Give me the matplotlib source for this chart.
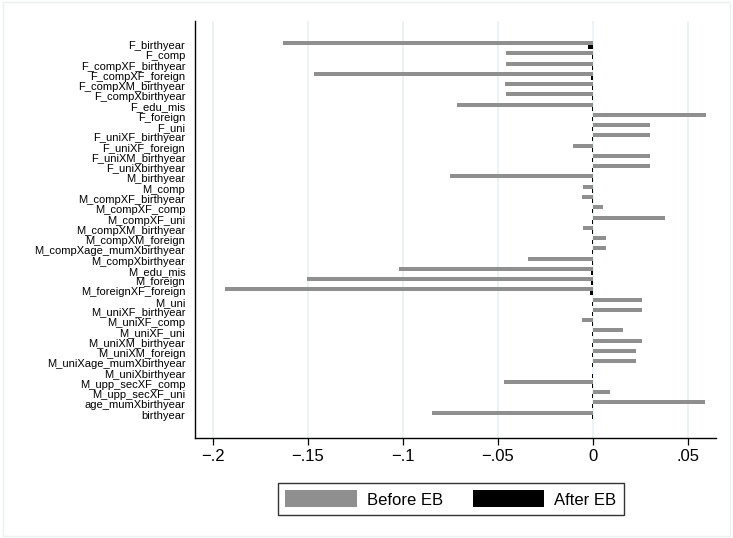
import matplotlib.pyplot as plt
from matplotlib.patches import Patch, Rectangle
import numpy as np

plt.rcParams['font.family'] = ['Liberation Sans', 'DejaVu Sans']

# Variables (top to bottom)
variables = ['F_birthyear', 'F_comp', 'F_compXF_birthyear', 'F_compXF_foreign',
             'F_compXM_birthyear', 'F_compXbirthyear', 'F_edu_mis', 'F_foreign',
             'F_uni', 'F_uniXF_birthyear', 'F_uniXF_foreign', 'F_uniXM_birthyear',
             'F_uniXbirthyear', 'M_birthyear', 'M_comp', 'M_compXF_birthyear',
             'M_compXF_comp', 'M_compXF_uni', 'M_compXM_birthyear', 'M_compXM_foreign',
             'M_compXage_mumXbirthyear', 'M_compXbirthyear', 'M_edu_mis', 'M_foreign',
             'M_foreignXF_foreign', 'M_uni', 'M_uniXF_birthyear', 'M_uniXF_comp',
             'M_uniXF_uni', 'M_uniXM_birthyear', 'M_uniXM_foreign',
             'M_uniXage_mumXbirthyear', 'M_uniXbirthyear', 'M_upp_secXF_comp',
             'M_upp_secXF_uni', 'age_mumXbirthyear', 'birthyear']

# Standardised differences before entropy balancing
before_eb = [-0.163, -0.0458, -0.0458, -0.1468, -0.0461, -0.0458, -0.0716, 0.0595,
             0.030, 0.030, -0.0102, 0.030, 0.030, -0.0754, -0.0053, -0.0054,
             0.0056, 0.038, -0.0053, 0.0072, 0.0072, -0.0342, -0.102, -0.1505,
             -0.1937, 0.0261, 0.0261, -0.0058, 0.016, 0.0261, 0.0226,
             0.0226, 0.0, -0.0468, 0.0091, 0.0591, -0.0847]

# ... and after entropy balancing
after_eb = [-0.0026, -0.0006, -0.0006, -0.0008, -0.0006, -0.0006, -0.0006, -0.0005,
            -0.0005, -0.0005, -0.0005, -0.0005, -0.0005, -0.0006, -0.0006, -0.0006,
            -0.0005, -0.0005, -0.0006, -0.0005, -0.0005, -0.0006, -0.0008, -0.0009,
            -0.0015, -0.0005, -0.0005, -0.0005, -0.0005, -0.0005, -0.0005,
            -0.0005, -0.0005, -0.0006, -0.0005, -0.0005, -0.0006]

xticks = [-0.2, -0.15, -0.1, -0.05, 0, 0.05]
xticklabels = ['\u2212.2', '\u2212.15', '\u2212.1', '\u2212.05', '0', '.05']

gray = '#8f8f8f'
pos = np.arange(len(variables))

fig = plt.figure(figsize=(7.33, 5.38), dpi=100)
fig.patches.append(Rectangle((0.004, 0.004), 0.992, 0.992, transform=fig.transFigure,
                             fill=False, edgecolor='#eaf1f3', linewidth=1.0))
ax = fig.add_axes([0.266, 0.186, 0.711, 0.775])

for x in xticks:
    ax.axvline(x, color='#eaf2f3', linewidth=1.3, zorder=0)

ax.barh(pos - 0.195, before_eb, height=0.39, color=gray, zorder=2)
ax.barh(pos + 0.195, after_eb, height=0.39, color='black', zorder=2)

ax.set_ylim(len(variables) - 1 + 2.27, -2.34)
ax.set_xlim(-0.2095, 0.065)
ax.set_yticks(pos)
ax.set_yticklabels(variables, fontsize=8.0)
ax.tick_params(axis='y', length=0, pad=7)
ax.set_xticks(xticks)
ax.set_xticklabels(xticklabels, fontsize=12)
ax.tick_params(axis='x', length=5, width=0.9, pad=3)

for s in ['top', 'right']:
    ax.spines[s].set_visible(False)
ax.spines['left'].set_linewidth(1.0)
ax.spines['bottom'].set_linewidth(1.0)

handles = [Patch(facecolor=gray, label='Before EB'), Patch(facecolor='black', label='After EB')]
leg = fig.legend(handles=handles, loc='center', bbox_to_anchor=(0.615, 0.0725), ncol=2,
                 fontsize=12, frameon=True, fancybox=False, edgecolor='black',
                 handlelength=4.3, handleheight=1.2, handletextpad=0.6,
                 columnspacing=1.8, borderpad=0.45)
leg.get_frame().set_linewidth(1.0)

fig.savefig('out.png', dpi=100, facecolor='white')
